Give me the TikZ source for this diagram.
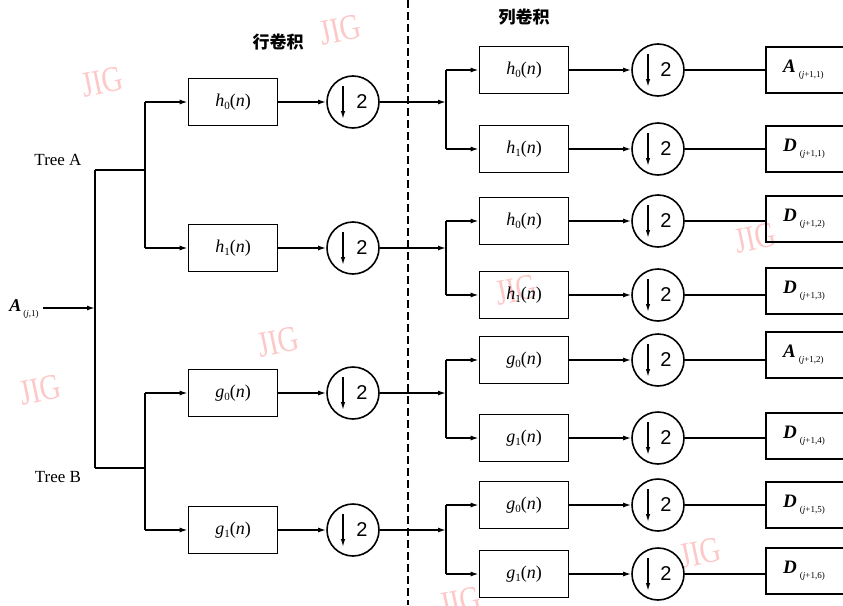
\RequirePackage{fix-cm}
\documentclass[tikz,border=0pt]{standalone}
\usepackage{fontspec}
\setmainfont{Liberation Serif}
\newfontfamily\cjk{Noto Sans CJK SC}
\newfontfamily\sfn{Liberation Sans}
\usetikzlibrary{arrows.meta,calc}
\definecolor{wmpink}{RGB}{253,200,200}
\newcommand{\fnlab}[2]{\textit{#1}\raisebox{-0.35ex}{\fontsize{11}{11}\selectfont #2}(\textit{n})}
\newcommand{\outlab}[2]{\textbf{\textit{#1}}\hspace{3pt}\raisebox{-0.6ex}{\fontsize{9}{9}\selectfont(\textit{j}#2)}}
\begin{document}
\begin{tikzpicture}[x=1pt,y=-1pt,
  fbox/.style={draw,line width=1.6pt,minimum width=89pt,minimum height=47pt,inner sep=0pt,font=\fontsize{18}{20}\selectfont},
  dcirc/.style={draw,circle,line width=1.6pt,minimum size=52pt,inner sep=0pt},
  obox/.style={draw,line width=1.6pt,minimum width=95pt,minimum height=46pt,anchor=west,inner sep=0pt},
  ln/.style={line width=1.5pt},
  arr/.style={ln,-{Latex[length=8pt,width=5pt]}},
  darr/.style={line width=1.3pt,-{Latex[length=8pt,width=4.5pt]}},
  two/.style={font=\sfn\fontsize{20}{20}\selectfont},
  wm/.style={text=wmpink,font=\fontsize{36}{36}\selectfont,rotate=12,xscale=0.8,inner sep=0pt},
  lab/.style={font=\fontsize{17}{20}\selectfont,inner sep=0pt},
  olab/.style={font=\fontsize{19}{20}\selectfont,anchor=west,inner sep=0pt},
  cn/.style={font=\cjk\bfseries\fontsize{17}{20}\selectfont,inner sep=0pt}
]
\useasboundingbox (0,0) rectangle (843,605);
% watermarks
\node[wm] (w1) at (102,82) {JIG};
\node[wm] (w2) at (340,30) {JIG};
\node[wm] (w3) at (278,342) {JIG};
\node[wm] (w4) at (40,390) {JIG};
\node[wm] (w5) at (516,290) {JIG};
\node[wm] (w6) at (755,238) {JIG};
\node[wm] (w7) at (700,553) {JIG};
\node[wm] (w8) at (460,602) {JIG};
\node[wm] (w9) at (500,-16) {JIG};
% labels
\node[cn] (rowconv) at (278,42) {行卷积};
\node[cn] (colconv) at (524,17) {列卷积};
\node[lab] (treeA) at (58,160) {Tree A};
\node[lab] (treeB) at (58,477) {Tree B};
\node[font=\fontsize{18}{20}\selectfont,inner sep=0pt] (Ain) at (24,309) {\textbf{\textit{A}}\hspace{2pt}\raisebox{-0.6ex}{\fontsize{9}{9}\selectfont(\textit{j},1)}};
% dashed divider
\coordinate (dtop) at (408,0);
\coordinate (dbot) at (408,605);
\draw[line width=1.4pt,dash pattern=on 8pt off 4pt] (dtop) -- (dbot);
% main trunk
\coordinate (M1) at (95,170);
\coordinate (M2) at (95,468);
\coordinate (TA) at (145,170);
\coordinate (TB) at (145,468);
\draw[ln] (M1) -- (M2);
\draw[arr] (Ain.east) ++(4,-1) coordinate (Ain0) -- (Ain0 -| M1);
\draw[ln] (M1) -- (TA);
\draw[ln] (M2) -- (TB);
% left column
\foreach \n/\y/\t/\s in {a/102/h/0, b/248/h/1, c/393/g/0, d/530/g/1}{
  \node[fbox] (L\n) at (233,\y) {\fnlab{\t}{\s}};
  \node[dcirc] (LC\n) at (353,\y) {};
  \draw[arr] (L\n) -- (LC\n);
  \draw[darr] ($(LC\n)+(-10,-16)$) -- ($(LC\n)+(-10,17)$);
  \node[two] at ($(LC\n)+(9,0)$) {2};
}
\draw[ln] (La.west -| TA) -- (Lb.west -| TA);
\draw[ln] (Lc.west -| TB) -- (Ld.west -| TB);
\foreach \n in {a,b}{\draw[arr] (L\n.west -| TA) -- (L\n.west);}
\foreach \n in {c,d}{\draw[arr] (L\n.west -| TB) -- (L\n.west);}
% right column
\foreach \n/\y/\t/\s/\oy/\oc/\oi in {1/70/h/0/70/A/{+1,1},
                             2/149/h/1/149/D/{+1,1},
                             3/221/h/0/219/D/{+1,2},
                             4/295/h/1/291/D/{+1,3},
                             5/360/g/0/355/A/{+1,2},
                             6/438/g/1/436/D/{+1,4},
                             7/505/g/0/505/D/{+1,5},
                             8/574/g/1/571/D/{+1,6}}{
  \node[fbox] (R\n) at (524,\y) {\fnlab{\t}{\s}};
  \node[dcirc] (RC\n) at (658,\y) {};
  \draw[arr] (R\n) -- (RC\n);
  \draw[darr] ($(RC\n)+(-10,-16)$) -- ($(RC\n)+(-10,17)$);
  \node[two] at ($(RC\n)+(8,0)$) {2};
  \node[obox] (O\n) at (765,\oy) {};
  \node[olab] (OL\n) at (783,\oy) {\outlab{\oc}{\oi}};
  \draw[ln] (RC\n.east) -- (RC\n.east -| O\n.west);
}
% splits in column stage
\coordinate (S1) at (446,102);
\coordinate (S2) at (446,248);
\coordinate (S3) at (446,393);
\coordinate (S4) at (446,530);
\draw[arr] (LCa) -- (S1);
\draw[arr] (LCb) -- (S2);
\draw[arr] (LCc) -- (S3);
\draw[arr] (LCd) -- (S4);
\draw[ln] (R1.west -| S1) -- (R2.west -| S1);
\draw[ln] (R3.west -| S2) -- (R4.west -| S2);
\draw[ln] (R5.west -| S3) -- (R6.west -| S3);
\draw[ln] (R7.west -| S4) -- (R8.west -| S4);
\foreach \n in {1,...,8}{\draw[arr] (R\n.west -| S1) -- (R\n.west);}
\end{tikzpicture}
\end{document}
